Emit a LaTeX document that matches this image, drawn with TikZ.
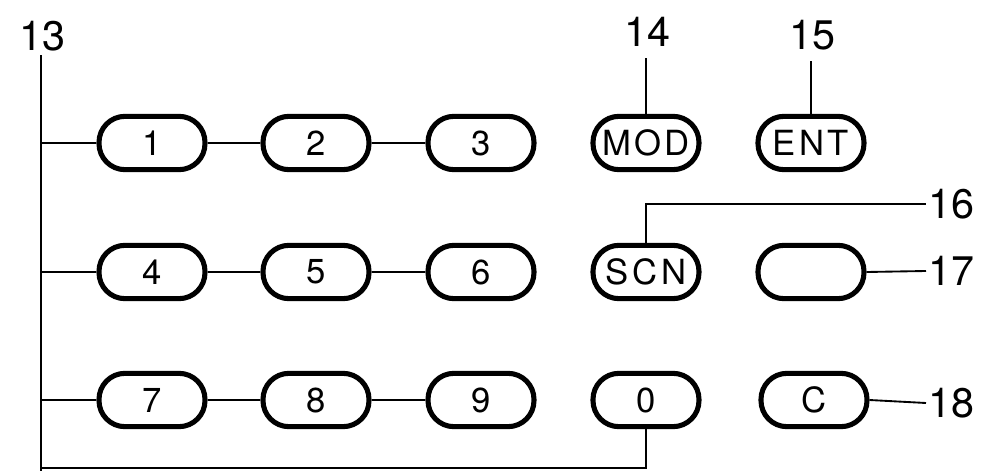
\documentclass[tikz,border=0pt]{standalone}
\usepackage{fontspec}
\setmainfont{TeX Gyre Heros}
\newfontfamily\keyfont[LetterSpace=10]{TeX Gyre Heros}
\begin{document}
\begin{tikzpicture}[x=0.75pt,y=-0.75pt,
 key/.style={draw, line width=3.8pt, rounded corners=19.5pt, minimum width=79.5pt,
   minimum height=40pt, inner sep=0pt, font=\keyfont\fontsize{26}{26}\selectfont},
 lbl/.style={inner sep=2pt, font=\fontsize{31}{31}\selectfont},
 wire/.style={line width=1.4pt}]
\useasboundingbox (0,0) rectangle (997,471);
% keys
\node[key] (k1) at (152,143) {1};
\node[key] (k2) at (316,143) {2};
\node[key] (k3) at (481,143) {3};
\node[key] (k14) at (646,143) {MOD};
\node[key] (k15) at (811,143) {ENT};
\node[key] (k4) at (152,272) {4};
\node[key] (k5) at (316,272) {5};
\node[key] (k6) at (481,272) {6};
\node[key] (k16) at (646,272) {SCN};
\node[key] (k17) at (811,272) {};
\node[key] (k7) at (152,400) {7};
\node[key] (k8) at (316,400) {8};
\node[key] (k9) at (481,400) {9};
\node[key] (k0) at (646,400) {0};
\node[key] (k18) at (814,400) {C};
% labels
\node[lbl] (l13) at (42,36) {13};
\node[lbl] (l14) at (647,32) {14};
\node[lbl] (l15) at (812,35) {15};
\node[lbl,anchor=west] (l16) at (926,204) {16};
\node[lbl,anchor=west] (l17) at (926,271) {17};
\node[lbl,anchor=west] (l18) at (926,403) {18};
% bus
\coordinate (bt) at (41,55);
\coordinate (bb) at (41,468);
\coordinate (be) at (41,471);
\draw[wire] (bt) -- (be);
\draw[wire] (bb) -| (k0.south);
\draw[wire] (k1.west) -- (k1.west -| bt);
\draw[wire] (k4.west) -- (k4.west -| bt);
\draw[wire] (k7.west) -- (k7.west -| bt);
% row links
\draw[wire] (k1) -- (k2);
\draw[wire] (k2) -- (k3);
\draw[wire] (k4) -- (k5);
\draw[wire] (k5) -- (k6);
\draw[wire] (k7) -- (k8);
\draw[wire] (k8) -- (k9);
% callouts
\draw[wire] (k14.north) -- ([yshift=-6pt]k14.north |- l14.south);
\draw[wire] (k15.north) -- ([yshift=-6pt]k15.north |- l15.south);
\draw[wire] (k16.north) |- (l16.west);
\draw[wire] (k17.east) -- (l17.west);
\draw[wire] (k18.east) -- (l18.west);
\end{tikzpicture}
\end{document}
